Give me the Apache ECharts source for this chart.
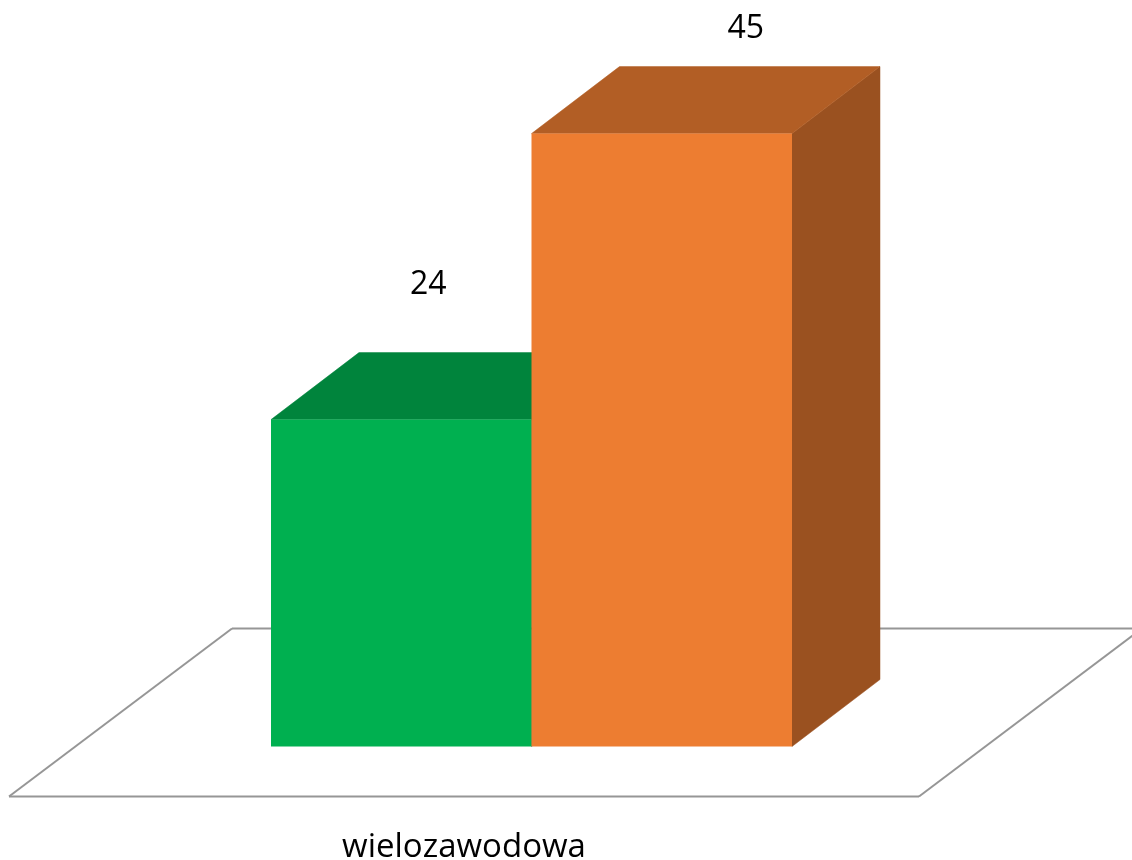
<!DOCTYPE html>
<html><head><meta charset="utf-8">
<style>html,body{margin:0;padding:0;background:#fff}#c{width:1132px;height:860px}</style>
<script src="https://cdn.jsdelivr.net/npm/echarts@6/dist/echarts.min.js"></script>
</head><body><div id="c"></div>
<script>
const categories = ['wielozawodowa'];
const greenValues = [24];
const orangeValues = [45];

const FONT = '"Open Sans", Lato, sans-serif';
const DEPTH_X = 88, DEPTH_Y = 67;
const BAR_W = 260.5, BAR_CENTER_SHIFT = 67.5;
const FLOOR_DX = 223, FLOOR_DY = 168, FLOOR_DROP = 50;

function bar3d(colors, side, labelDx, labelDy) {
  return function (params, api) {
    const x0 = api.coord([api.value(0), 0]);
    const top = api.coord([api.value(0), api.value(1)]);
    const cx = x0[0] + BAR_CENTER_SHIFT + side * BAR_W / 2;
    const l = cx - BAR_W / 2, r = cx + BAR_W / 2;
    const b = x0[1], t = top[1];
    const poly = (pts, fill) => ({ type: 'polygon', shape: { points: pts }, style: { fill: fill, stroke: fill, lineWidth: 0.5 } });
    return {
      type: 'group',
      children: [
        poly([[r, b], [r + DEPTH_X, b - DEPTH_Y], [r + DEPTH_X, t - DEPTH_Y], [r, t]], colors.side),
        poly([[l, t], [r, t], [r + DEPTH_X, t - DEPTH_Y], [l + DEPTH_X, t - DEPTH_Y]], colors.top),
        { type: 'rect', shape: { x: l, y: t, width: BAR_W, height: b - t }, style: { fill: colors.front } },
        { type: 'text', x: cx + labelDx, y: t - DEPTH_Y + labelDy,
          style: { text: String(api.value(1)), font: '32px ' + FONT, fill: '#000', align: 'center', verticalAlign: 'middle' } }
      ]
    };
  };
}

function renderFloor(params, api) {
  const cs = params.coordSys;
  const fy = cs.y + cs.height + FLOOR_DROP;
  const xl = cs.x, xr = cs.x + cs.width;
  const line = (a, b) => ({ type: 'line', shape: { x1: a[0], y1: a[1], x2: b[0], y2: b[1] }, style: { stroke: '#969696', lineWidth: 2 } });
  const fl = [xl, fy], fr = [xr, fy], bl = [xl + FLOOR_DX, fy - FLOOR_DY], br = [xr + FLOOR_DX, fy - FLOOR_DY];
  return { type: 'group', children: [line(fl, fr), line(fl, bl), line(bl, br), line(fr, br)] };
}

const chart = echarts.init(document.getElementById('c'), null, { renderer: 'canvas' });
chart.setOption({
  animation: false,
  backgroundColor: '#fff',
  grid: { left: 9, width: 910, top: 65.5, height: 681, containLabel: false, outerBoundsMode: 'none' },
  xAxis: {
    type: 'category', data: categories,
    axisLine: { show: false }, axisTick: { show: false },
    axisLabel: { margin: 85, fontFamily: FONT, fontSize: 33, color: '#000' }
  },
  yAxis: { type: 'value', min: 0, max: 50, show: false, splitLine: { show: false } },
  series: [
    { type: 'custom', data: [[0, 0]], renderItem: renderFloor, silent: true, clip: false, z: 1 },
    { type: 'custom', name: 'green', z: 2, clip: false,
      data: categories.map((c, i) => [i, greenValues[i]]), encode: { x: 0, y: 1 },
      renderItem: bar3d({ front: '#00B050', top: '#00843C', side: '#007234' }, -1, 27, -68) },
    { type: 'custom', name: 'orange', z: 3, clip: false,
      data: categories.map((c, i) => [i, orangeValues[i]]), encode: { x: 0, y: 1 },
      renderItem: bar3d({ front: '#ED7D31', top: '#B25E25', side: '#9A5120' }, 1, 84, -38) }
  ]
});
</script></body></html>
